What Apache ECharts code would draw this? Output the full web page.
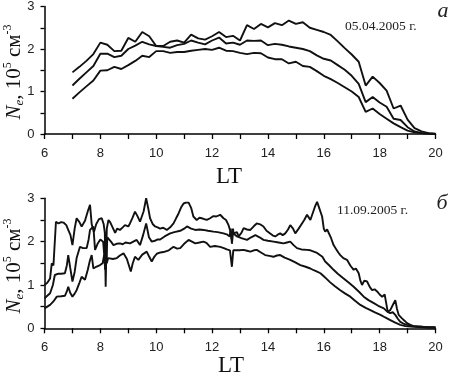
<!DOCTYPE html>
<html>
<head>
<meta charset="utf-8">
<script src="https://cdn.jsdelivr.net/npm/echarts@6/dist/echarts.min.js"></script>
<style>
  html, body { margin: 0; padding: 0; background: #fff; }
  #chart { width: 451px; height: 376px; }
</style>
</head>
<body>
<div id="chart"></div>
<script>
// ---- panel a: 05.04.2005 ----
var topHours = [7, 7.25, 7.5, 7.75, 8, 8.25, 8.5, 8.75, 9, 9.25, 9.5, 9.75, 10, 10.25, 10.5, 10.75,
  11, 11.25, 11.5, 11.75, 12, 12.25, 12.5, 12.75, 13, 13.25, 13.5, 13.75, 14, 14.25, 14.5, 14.75,
  15, 15.25, 15.5, 15.75, 16, 16.25, 16.5, 16.75, 17, 17.25, 17.5, 17.75, 18, 18.25, 18.5, 18.75,
  19, 19.25, 19.5, 19.75, 20];
var topUpper = [1.45, 1.58, 1.72, 1.88, 2.15, 2.10, 1.95, 1.96, 2.26, 2.17, 2.40, 2.30, 2.07, 2.07, 2.17, 2.20,
  2.15, 2.34, 2.25, 2.22, 2.30, 2.40, 2.28, 2.31, 2.20, 2.56, 2.47, 2.59, 2.51, 2.61, 2.56, 2.67,
  2.59, 2.63, 2.50, 2.45, 2.40, 2.33, 2.18, 2.02, 1.87, 1.70, 1.14, 1.35, 1.20, 1.02, 0.60, 0.67,
  0.34, 0.14, 0.06, 0.02, 0.01];
var topMiddle = [1.14, 1.30, 1.45, 1.60, 1.89, 1.89, 1.81, 1.84, 2.00, 2.08, 2.17, 2.11, 2.07, 2.05, 2.03, 2.09,
  2.12, 2.20, 2.15, 2.11, 2.20, 2.27, 2.13, 2.15, 2.10, 2.20, 2.19, 2.20, 2.09, 2.12, 2.10, 2.06,
  2.03, 2.00, 1.95, 1.85, 1.77, 1.73, 1.62, 1.51, 1.37, 1.18, 0.75, 0.87, 0.74, 0.64, 0.36, 0.33,
  0.16, 0.06, 0.02, 0.01, 0.0];
var topLower = [0.83, 0.98, 1.12, 1.26, 1.49, 1.50, 1.58, 1.53, 1.62, 1.72, 1.84, 1.81, 1.95, 1.95, 1.91, 1.93,
  1.93, 1.96, 1.98, 2.00, 1.98, 2.03, 1.96, 1.95, 1.91, 1.88, 1.91, 1.90, 1.80, 1.76, 1.76, 1.66,
  1.70, 1.60, 1.58, 1.48, 1.37, 1.29, 1.20, 1.10, 1.00, 0.87, 0.52, 0.60, 0.47, 0.36, 0.25, 0.16,
  0.08, 0.04, 0.02, 0.01, 0.0];

// ---- panel б: 11.09.2005 ----
var botUpperT = [6.0, 6.1, 6.2, 6.26, 6.32, 6.41, 6.5, 6.6, 6.68, 6.78, 6.85, 6.93, 7.0, 7.08, 7.15, 7.25,
  7.33, 7.45, 7.55, 7.63, 7.69, 7.77, 7.85, 7.95, 8.05, 8.12, 8.16, 8.19, 8.23, 8.29, 8.35, 8.41,
  8.53, 8.6, 8.7, 8.8, 8.88, 9.0, 9.06, 9.15, 9.24, 9.32, 9.42, 9.55, 9.64, 9.72, 9.78, 9.88,
  9.96, 10.05, 10.14, 10.25, 10.38, 10.5, 10.62, 10.72, 10.8, 10.9, 10.98, 11.06, 11.16, 11.25,
  11.33, 11.45, 11.55, 11.63, 11.72, 11.81, 11.93, 12.05, 12.15, 12.29, 12.41, 12.5, 12.59, 12.65,
  12.7, 12.75, 12.77, 12.89, 12.95, 13.05, 13.13, 13.25, 13.37, 13.5, 13.6, 13.72, 13.84, 13.95,
  14.08, 14.18, 14.26, 14.35, 14.44, 14.53, 14.62, 14.72, 14.8, 14.9, 14.98, 15.1, 15.22, 15.3,
  15.4, 15.46, 15.52, 15.6, 15.68, 15.76, 15.85, 15.94, 16.0, 16.05, 16.12, 16.17, 16.25, 16.35,
  16.45, 16.52, 16.59, 16.7, 16.83, 16.95, 17.07, 17.15, 17.25, 17.31, 17.37, 17.45, 17.55, 17.65,
  17.73, 17.82, 17.91, 18.0, 18.09, 18.18, 18.23, 18.29, 18.38, 18.48, 18.56, 18.62, 18.68, 18.8,
  18.9, 18.98, 19.1, 19.22, 19.4, 19.58, 19.8, 20.0];
var botUpperV = [1.0, 1.05, 1.15, 1.5, 1.45, 2.46, 2.42, 2.45, 2.44, 2.38, 2.27, 2.15, 1.92, 2.3, 2.54, 2.45,
  2.35, 2.48, 2.7, 2.85, 2.4, 2.22, 2.4, 2.52, 2.54, 2.4, 2.2, 0.96, 2.3, 2.5, 2.45, 2.42,
  2.2, 2.3, 2.27, 2.33, 2.38, 2.35, 2.42, 2.55, 2.69, 2.6, 2.46, 2.7, 3.0, 2.75, 2.54, 2.4,
  2.35, 2.33, 2.3, 2.32, 2.27, 2.33, 2.42, 2.55, 2.65, 2.8, 2.88, 2.9, 2.9, 2.78,
  2.58, 2.5, 2.55, 2.54, 2.52, 2.5, 2.54, 2.59, 2.58, 2.62, 2.54, 2.5, 2.38, 2.25,
  2.05, 2.3, 2.19, 2.22, 2.12, 2.2, 2.31, 2.28, 2.27, 2.36, 2.42, 2.4, 2.35, 2.25,
  2.19, 2.14, 2.12, 2.16, 2.19, 2.15, 2.19, 2.28, 2.38, 2.3, 2.19, 2.3, 2.42, 2.5,
  2.62, 2.56, 2.5, 2.65, 2.8, 2.92, 2.75, 2.58, 2.3, 2.23, 2.28, 2.27, 2.1, 1.92,
  1.82, 1.75, 1.69, 1.62, 1.58, 1.45, 1.35, 1.38, 1.27, 1.1, 1.0, 1.1, 1.08, 0.95,
  0.88, 0.9, 0.85, 0.78, 0.73, 0.78, 0.6, 0.38, 0.42, 0.55, 0.65, 0.45, 0.31, 0.23,
  0.17, 0.12, 0.08, 0.05, 0.04, 0.03, 0.02, 0.02];

var botMiddleT = [6.0, 6.1, 6.2, 6.3, 6.37, 6.5, 6.6, 6.73, 6.8, 6.85, 6.92, 7.0, 7.08, 7.15, 7.27, 7.38,
  7.51, 7.58, 7.63, 7.7, 7.75, 7.81, 7.9, 8.0, 8.1, 8.15, 8.18, 8.21, 8.25, 8.29, 8.38, 8.47,
  8.58, 8.7, 8.8, 8.9, 9.06, 9.18, 9.3, 9.42, 9.53, 9.64, 9.74, 9.84, 9.95, 10.05, 10.14, 10.3,
  10.5, 10.65, 10.86, 11.0, 11.1, 11.25, 11.4, 11.55, 11.69, 11.85, 12.05, 12.2, 12.41, 12.55,
  12.63, 12.67, 12.71, 12.75, 12.89, 13.05, 13.25, 13.4, 13.55, 13.7, 13.84, 14.0, 14.2, 14.38,
  14.56, 14.68, 14.8, 14.92, 15.04, 15.2, 15.4, 15.52, 15.64, 15.76, 15.82, 15.95, 16.05, 16.2,
  16.35, 16.5, 16.71, 16.9, 17.07, 17.25, 17.43, 17.6, 17.79, 17.95, 18.15, 18.28, 18.38, 18.47,
  18.56, 18.65, 18.74, 18.85, 18.98, 19.15, 19.34, 19.6, 20.0];
var botMiddleV = [0.69, 0.75, 0.81, 1.0, 1.23, 1.26, 1.26, 1.27, 1.45, 1.69, 1.4, 1.08, 1.3, 1.62, 1.88, 1.85,
  1.85, 2.05, 2.27, 2.23, 2.35, 1.81, 1.95, 2.05, 2.0, 1.6, 2.15, 1.5, 2.1, 2.08, 2.0, 1.92,
  1.95, 1.96, 1.94, 1.98, 1.96, 2.0, 2.04, 1.92, 2.15, 2.42, 2.1, 2.0, 2.02, 2.05, 2.05, 2.12,
  2.19, 2.22, 2.25, 2.3, 2.35, 2.3, 2.27, 2.28, 2.27, 2.25, 2.23, 2.22, 2.19, 2.16,
  2.12, 2.3, 1.95, 2.2, 2.12, 2.08, 2.04, 2.1, 2.15, 2.1, 2.04, 2.02, 2.0, 1.98,
  1.96, 1.98, 2.0, 1.92, 1.85, 1.82, 1.81, 1.8, 1.77, 1.74, 1.78, 1.65, 1.54, 1.45,
  1.35, 1.26, 1.15, 1.05, 0.96, 0.85, 0.73, 0.65, 0.58, 0.52, 0.46, 0.38, 0.35, 0.37,
  0.31, 0.22, 0.15, 0.11, 0.08, 0.05, 0.04, 0.03, 0.02];

var botLowerT = [6.0, 6.1, 6.2, 6.32, 6.44, 6.6, 6.73, 6.8, 6.85, 6.92, 7.0, 7.08, 7.15, 7.25, 7.33, 7.45,
  7.55, 7.62, 7.69, 7.75, 7.85, 7.99, 8.08, 8.14, 8.17, 8.2, 8.23, 8.28, 8.35, 8.45, 8.59, 8.7,
  8.83, 8.95, 9.09, 9.16, 9.24, 9.36, 9.5, 9.66, 9.75, 9.84, 9.93, 10.02, 10.15, 10.26, 10.45, 10.62,
  10.75, 10.86, 11.0, 11.16, 11.28, 11.4, 11.55, 11.69, 11.8, 11.93, 12.1, 12.29, 12.42, 12.53,
  12.64, 12.71, 12.76, 12.83, 12.98, 13.13, 13.25, 13.37, 13.5, 13.6, 13.75, 13.9, 14.05, 14.2,
  14.32, 14.44, 14.6, 14.8, 14.98, 15.16, 15.35, 15.52, 15.64, 15.76, 15.88, 16.0, 16.12, 16.23,
  16.4, 16.59, 16.77, 16.95, 17.13, 17.31, 17.5, 17.67, 17.85, 18.03, 18.2, 18.38, 18.56, 18.74,
  18.92, 19.1, 19.4, 19.7, 20.0];
var botLowerV = [0.46, 0.5, 0.54, 0.62, 0.73, 0.74, 0.75, 0.85, 0.96, 0.82, 0.73, 0.8, 0.88, 1.05, 1.19, 1.12,
  1.35, 1.55, 1.69, 1.38, 1.42, 1.46, 1.5, 1.7, 1.35, 2.1, 1.5, 1.62, 1.65, 1.6, 1.62, 1.68,
  1.73, 1.6, 1.31, 1.5, 1.65, 1.58, 1.7, 1.77, 1.65, 1.54, 1.65, 1.72, 1.75, 1.76, 1.8, 1.88,
  1.84, 1.85, 1.95, 2.04, 2.0, 1.96, 1.98, 2.0, 1.97, 1.88, 1.9, 1.88, 1.85, 1.82,
  1.8, 1.42, 1.8, 1.79, 1.8, 1.81, 1.79, 1.77, 1.8, 1.81, 1.75, 1.69, 1.67, 1.65,
  1.68, 1.69, 1.63, 1.58, 1.52, 1.46, 1.42, 1.38, 1.34, 1.31, 1.27, 1.2, 1.13, 1.06,
  0.97, 0.88, 0.8, 0.73, 0.63, 0.54, 0.47, 0.42, 0.36, 0.31, 0.25, 0.19, 0.13, 0.08,
  0.05, 0.04, 0.03, 0.02, 0.02];

var xTicks = { min: 6, max: 20, step: 1 };
var yTicks = { min: 0, max: 3, step: 0.5 };

function pairs(xs, ys) {
  return xs.map(function (x, i) { return [x, ys[i]]; });
}

var dom = document.getElementById('chart');
var myChart = echarts.init(dom, null, { renderer: 'canvas' });

var axisColor = '#000';
var labelFont = { fontFamily: 'Liberation Sans', fontSize: 13, color: '#222' };

function makeX(gridIndex) {
  return {
    type: 'value', gridIndex: gridIndex,
    min: xTicks.min, max: xTicks.max, interval: xTicks.step,
    axisLine: { onZero: false, lineStyle: { color: axisColor, width: 1.5 } },
    axisTick: { length: 5, lineStyle: { color: axisColor, width: 1.3 } },
    axisLabel: Object.assign({ margin: 13, formatter: function (v) { return v % 2 === 0 ? v : ''; } }, labelFont),
    splitLine: { show: false }
  };
}
function makeY(gridIndex) {
  return {
    type: 'value', gridIndex: gridIndex,
    min: yTicks.min, max: yTicks.max, interval: yTicks.step,
    axisLine: { show: true, lineStyle: { color: axisColor, width: 1.5 } },
    axisTick: { show: true, length: 4, lineStyle: { color: axisColor, width: 1.3 } },
    axisLabel: Object.assign({ margin: 10, formatter: function (v) { return Number.isInteger(v) ? v : ''; } }, labelFont),
    splitLine: { show: false }
  };
}
function line(name, xi, data) {
  return {
    name: name, type: 'line', xAxisIndex: xi, yAxisIndex: xi,
    data: data, showSymbol: false, symbol: 'none',
    lineStyle: { color: '#111', width: 1.9 },
    animation: false
  };
}

// N_e, 10^5 см^-3 : sub/superscripts shifted through rich lineHeight + verticalAlign
var serif = 'Liberation Serif';
var yName = {
  text: '{n|N}{s|e}{t|, 10}{p|5}{t| см}{p|-3}',
  rich: {
    n: { fontFamily: serif, fontStyle: 'italic', fontSize: 21, fill: '#111', lineHeight: 25 },
    s: { fontFamily: serif, fontStyle: 'italic', fontSize: 13, fill: '#111', verticalAlign: 'bottom', lineHeight: 13 },
    t: { fontFamily: serif, fontSize: 21, fill: '#111', lineHeight: 25 },
    p: { fontFamily: serif, fontSize: 12, fill: '#111', verticalAlign: 'top', lineHeight: 12 }
  }
};

option = {
  backgroundColor: '#fff',
  animation: false,
  grid: [
    { left: 44.5, right: 15.5, top: 5, height: 129 },
    { left: 44.5, right: 15.5, top: 198.3, height: 130 }
  ],
  xAxis: [makeX(0), makeX(1)],
  yAxis: [makeY(0), makeY(1)],
  series: [
    line('a upper', 0, pairs(topHours, topUpper)),
    line('a middle', 0, pairs(topHours, topMiddle)),
    line('a lower', 0, pairs(topHours, topLower)),
    line('b upper', 1, pairs(botUpperT, botUpperV)),
    line('b middle', 1, pairs(botMiddleT, botMiddleV)),
    line('b lower', 1, pairs(botLowerT, botLowerV))
  ],
  graphic: [
    { type: 'text', x: 229, y: 177, style: { text: 'LT', fontFamily: serif, fontSize: 23, fill: '#111', align: 'center', verticalAlign: 'middle' } },
    { type: 'text', x: 231, y: 366, style: { text: 'LT', fontFamily: serif, fontSize: 23, fill: '#111', align: 'center', verticalAlign: 'middle' } },
    { type: 'text', x: 345, y: 26, style: { text: '05.04.2005 г.', fontFamily: serif, fontSize: 13.5, fill: '#222', align: 'left', verticalAlign: 'middle' } },
    { type: 'text', x: 337, y: 210, style: { text: '11.09.2005 г.', fontFamily: serif, fontSize: 13.5, fill: '#222', align: 'left', verticalAlign: 'middle' } },
    { type: 'text', x: 443, y: 11, style: { text: 'а', fontFamily: serif, fontStyle: 'italic', fontSize: 22, fill: '#222', align: 'center', verticalAlign: 'middle' } },
    { type: 'text', x: 442, y: 203, style: { text: 'б', fontFamily: serif, fontStyle: 'italic', fontSize: 22, fill: '#222', align: 'center', verticalAlign: 'middle' } },
    { type: 'text', x: 14, y: 72, rotation: Math.PI / 2, style: Object.assign({ align: 'center', verticalAlign: 'middle' }, yName) },
    { type: 'text', x: 14, y: 266, rotation: Math.PI / 2, style: Object.assign({ align: 'center', verticalAlign: 'middle' }, yName) }
  ]
};

if (option && typeof option === 'object') {
  myChart.setOption(option, true);
}
</script>
</body>
</html>
